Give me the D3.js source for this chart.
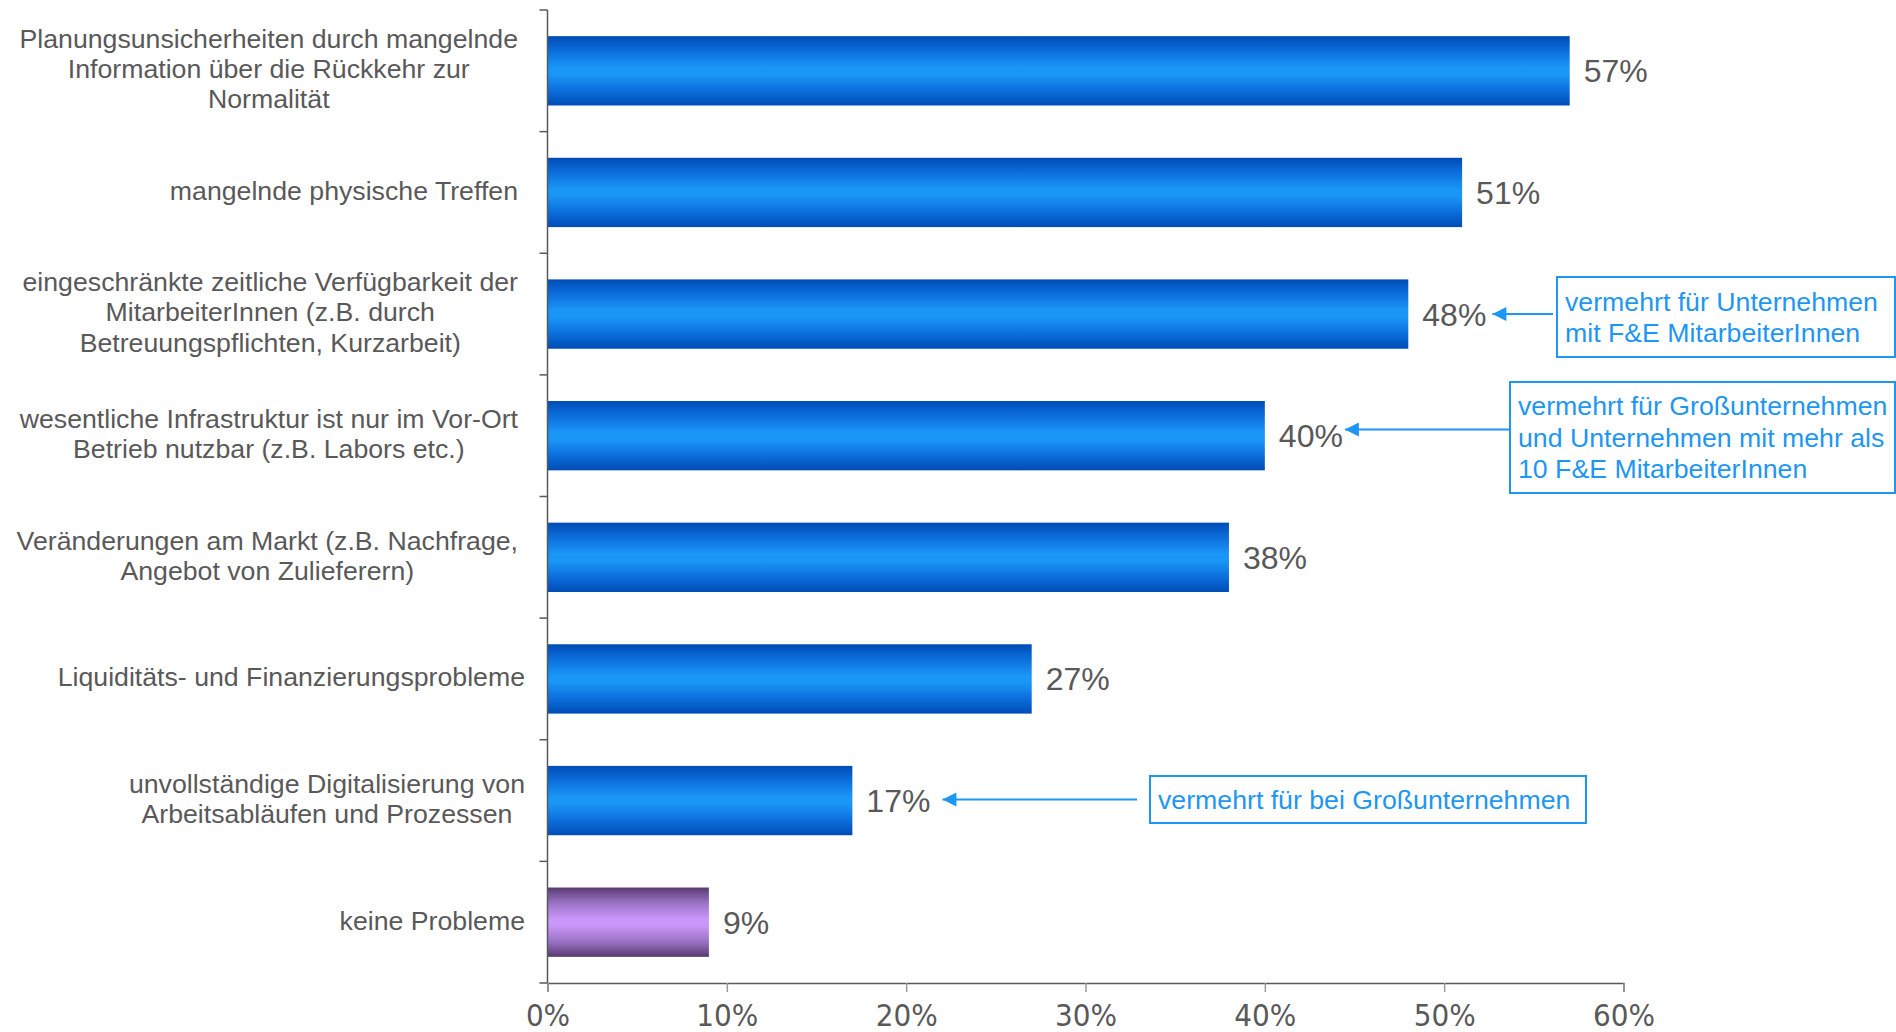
<!DOCTYPE html>
<html>
<head>
<meta charset="utf-8">
<script src="https://cdn.jsdelivr.net/npm/d3@7"></script>
<style>
  html, body { margin: 0; padding: 0; background: #fff; }
  svg { display: block; }
</style>
</head>
<body>
<svg id="chart" width="1896" height="1032"></svg>
<script>
// Problems named by companies, share of respondents
const categories = [
  "Planungsunsicherheiten durch mangelnde\nInformation über die Rückkehr zur\nNormalität",
  "mangelnde physische Treffen",
  "eingeschränkte zeitliche Verfügbarkeit der\nMitarbeiterInnen (z.B. durch\nBetreuungspflichten, Kurzarbeit)",
  "wesentliche Infrastruktur ist nur im Vor-Ort\nBetrieb nutzbar (z.B. Labors etc.)",
  "Veränderungen am Markt (z.B. Nachfrage,\nAngebot von Zulieferern)",
  "Liquiditäts- und Finanzierungsprobleme",
  "unvollständige Digitalisierung von\nArbeitsabläufen und Prozessen",
  "keine Probleme"
];
const values = [0.57, 0.51, 0.48, 0.40, 0.38, 0.27, 0.17, 0.09];
const xTicks = [0, 0.1, 0.2, 0.3, 0.4, 0.5, 0.6];

// Callout notes: text lines and the category they point at
const noteTexts = [
  ["vermehrt für Unternehmen", "mit F&E MitarbeiterInnen"],
  ["vermehrt für Großunternehmen", "und Unternehmen mit mehr als", "10 F&E MitarbeiterInnen"],
  ["vermehrt für bei Großunternehmen"]
];
const noteTargets = [2, 3, 6];

const svg = d3.select("#chart");
const gray = "#595959";
const noteBlue = "#1e96f3";

const x = d3.scaleLinear().domain([0, 0.6]).range([547.5, 1623.5]);
const y = d3.scaleBand().domain(d3.range(categories.length))
  .range([10, 983]).paddingInner(0.43).paddingOuter(0.215);

// Gradients for the bars
const defs = svg.append("defs");
function grad(id, edge, mid, centre) {
  const g = defs.append("linearGradient").attr("id", id)
    .attr("x1", 0).attr("y1", 0).attr("x2", 0).attr("y2", 1);
  [[0, edge], [0.22, mid], [0.45, centre], [0.55, centre], [0.78, mid], [1, edge]]
    .forEach(([o, c]) => g.append("stop").attr("offset", o).attr("stop-color", c));
}
grad("gBlue", "#004cb6", "#0c6fdc", "#1a96f7");
grad("gPurple", "#583b70", "#9a72c4", "#c996f9");

// Bars
svg.append("g").selectAll("rect").data(values).join("rect")
  .attr("x", x(0))
  .attr("y", (d, i) => y(i))
  .attr("width", d => x(d) - x(0))
  .attr("height", y.bandwidth())
  .attr("fill", (d, i) => i === values.length - 1 ? "url(#gPurple)" : "url(#gBlue)");

// Y axis (category boundaries as ticks)
const step = y.step();
const yAxis = svg.append("g").attr("stroke", gray).attr("stroke-width", 1.5);
yAxis.append("line").attr("x1", x(0)).attr("x2", x(0)).attr("y1", 10).attr("y2", 983);
d3.range(categories.length + 1).forEach(i => {
  const yy = 10 + i * step;
  yAxis.append("line").attr("x1", x(0) - 8).attr("x2", x(0)).attr("y1", yy).attr("y2", yy);
});

// X axis
const xAxisG = svg.append("g").attr("transform", "translate(0,983)")
  .call(d3.axisBottom(x).tickValues(xTicks).tickSize(9).tickPadding(12)
    .tickFormat(d3.format(".0%")));
xAxisG.select(".domain").attr("stroke", gray).attr("stroke-width", 1.5);
xAxisG.selectAll(".tick line").attr("stroke", "#9a9a9a").attr("stroke-width", 1.5);
xAxisG.selectAll(".tick text")
  .attr("fill", gray)
  .style("font-family", "'Liberation Sans Narrow','DejaVu Sans Condensed',sans-serif")
  .style("font-size", "31px");

// Category labels, each block centered under its widest line
const labelFont = "'Liberation Sans', Arial, sans-serif";
const lineH = 30.3;
const labelG = svg.append("g")
  .style("font-family", labelFont).style("font-size", "26.7px").attr("fill", gray);
categories.forEach((c, i) => {
  const lines = c.split("\n");
  const rightEdge = i >= 5 ? 525 : 518;
  const t = labelG.append("text").attr("text-anchor", "middle");
  const cy = y(i) + y.bandwidth() / 2 - 2;
  lines.forEach((ln, k) => {
    t.append("tspan").attr("y", cy + (k - (lines.length - 1) / 2) * lineH)
      .attr("dy", "0.35em").text(ln);
  });
  let w = 0;
  t.selectAll("tspan").each(function () { w = Math.max(w, this.getComputedTextLength()); });
  t.selectAll("tspan").attr("x", rightEdge - w / 2);
});

// Value labels
const valueLabels = svg.append("g")
  .style("font-family", labelFont).style("font-size", "32px").attr("fill", gray)
  .selectAll("text").data(values).join("text")
  .attr("x", d => x(d) + 14)
  .attr("y", (d, i) => y(i) + y.bandwidth() / 2)
  .attr("dy", "0.36em")
  .text(d => d3.format(".0%")(d));

// Callouts
defs.append("marker").attr("id", "arrowHead")
  .attr("viewBox", "0 0 10 10").attr("refX", 0).attr("refY", 5)
  .attr("markerWidth", 8).attr("markerHeight", 7).attr("orient", "auto")
  .attr("markerUnits", "strokeWidth")
  .append("path").attr("d", "M0,5 L10,0 L10,10 Z").attr("fill", noteBlue);

const boxes = [
  { x: 1557, y: 277, w: 338, h: 80, lineEnd: 1553, ay: 314, gap: 6 },
  { x: 1510, y: 382, w: 385, h: 111, lineEnd: 1510, ay: 429.5, gap: 2 },
  { x: 1150, y: 776, w: 436, h: 47, lineEnd: 1137, ay: 799.5, gap: 12 }
];
const noteG = svg.append("g");
noteTexts.forEach((lines, n) => {
  const b = boxes[n];
  const lab = valueLabels.filter((d, i) => i === noteTargets[n]).node();
  const bb = lab.getBBox();
  const tip = bb.x + bb.width + b.gap;
  noteG.append("line")
    .attr("x1", tip).attr("x2", b.lineEnd)
    .attr("y1", b.ay).attr("y2", b.ay)
    .attr("stroke", noteBlue).attr("stroke-width", 2)
    .attr("marker-start", "url(#arrowHead)");
  noteG.append("rect").attr("x", b.x).attr("y", b.y).attr("width", b.w).attr("height", b.h)
    .attr("fill", "#fff").attr("stroke", noteBlue).attr("stroke-width", 2);
  const t = noteG.append("text")
    .style("font-family", labelFont).style("font-size", "26.7px").attr("fill", noteBlue);
  lines.forEach((ln, k) => {
    t.append("tspan").attr("x", b.x + 8)
      .attr("y", b.y + b.h / 2 + (k - (lines.length - 1) / 2) * 31.5)
      .attr("dy", "0.35em").text(ln);
  });
});
</script>
</body>
</html>
